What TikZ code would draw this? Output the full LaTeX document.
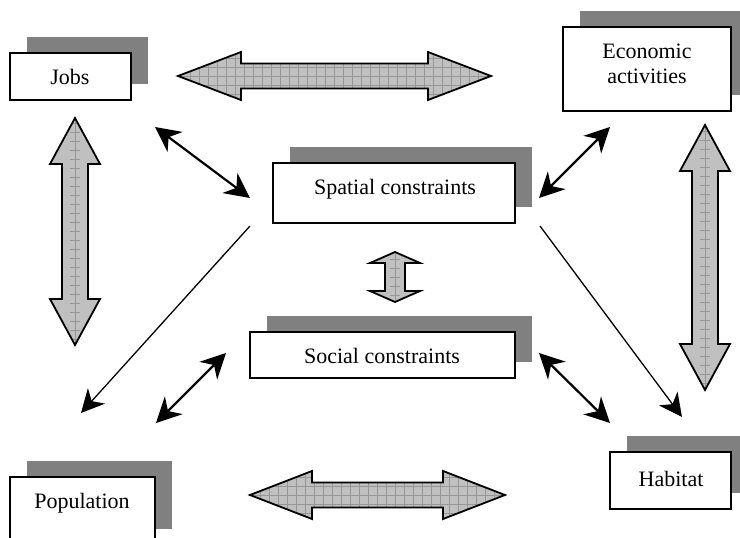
\documentclass[tikz,border=0pt]{standalone}
\usepackage{fontspec}
\setmainfont{Liberation Serif}
\usetikzlibrary{arrows.meta,shadows}
\definecolor{shadowgray}{RGB}{128,128,128}
\definecolor{blockgray}{RGB}{192,192,192}
\definecolor{gridgray}{RGB}{150,150,150}
\tikzset{
  box/.style={draw=black, line width=1.5pt, fill=white, inner sep=0pt,
    copy shadow={shadow xshift=17pt, shadow yshift=16pt, draw=none, fill=shadowgray}},
  lbl/.style={font=\fontsize{22}{25.5}\selectfont, align=center, inner sep=0pt},
  blockedge/.style={draw=black, line width=1.8pt, line join=miter, fill=blockgray,
    path picture={\draw[gridgray, line width=0.6pt]
      ([shift={(-20pt,-20pt)}]path picture bounding box.south west) grid[step=9pt]
      ([shift={(20pt,20pt)}]path picture bounding box.north east);}},
  dbl/.style={line width=2.2pt, {Stealth[length=25pt,width=25pt,inset=8pt]}-{Stealth[length=25pt,width=25pt,inset=8pt]}},
  sgl/.style={line width=1.3pt, -{Stealth[length=23pt,width=23pt,inset=7pt]}}
}
\newcommand\blkarrow[7]{%
  \begin{scope}[shift={(#1,#2)},rotate=#3]
    \path[blockedge] (-#4,0) -- ({-#4+#7},#6) -- ({-#4+#7},#5) -- ({#4-#7},#5)
      -- ({#4-#7},#6) -- (#4,0) -- ({#4-#7},-#6) -- ({#4-#7},-#5)
      -- ({-#4+#7},-#5) -- ({-#4+#7},-#6) -- cycle;
  \end{scope}}
\begin{document}
\begin{tikzpicture}[x=1pt,y=-1pt]
\useasboundingbox (0,0) rectangle (740,538);

% boxes
\node[box, minimum width=121pt, minimum height=47pt] (jobs) at (70.5,76.5) {};
\node[box, minimum width=168pt, minimum height=84pt] (eco) at (647,69) {};
\node[box, minimum width=242pt, minimum height=60pt] (spat) at (394,193) {};
\node[box, minimum width=265pt, minimum height=46pt] (soc) at (382.5,355) {};
\node[box, minimum width=145pt, minimum height=68pt] (pop) at (82.5,511) {};
\node[box, minimum width=121pt, minimum height=57pt] (hab) at (670.5,480.5) {};

% labels
\node[lbl] (jobsT) at (70,77) {Jobs};
\node[lbl] (ecoT) at (647,64) {Economic\\activities};
\node[lbl] (spatT) at (395,189) {Spatial constraints};
\node[lbl] (socT) at (382,356) {Social constraints};
\node[lbl] (popT) at (82,503) {Population};
\node[lbl] (habT) at (671,479) {Habitat};

% block arrows
\blkarrow{334.5}{76}{0}{156.5}{12.5}{24}{63}
\blkarrow{377.5}{495}{0}{127.5}{12.5}{24}{62}
\blkarrow{75}{231.5}{90}{113.5}{13}{25}{46}
\blkarrow{705}{257.5}{90}{132.5}{13}{25}{46}
\blkarrow{395}{277}{90}{25}{10}{25}{11}

% thin arrows
\coordinate (j1) at (155,127); \coordinate (j2) at (250,198);
\coordinate (e1) at (610,127); \coordinate (e2) at (539,198);
\coordinate (p1) at (226,353); \coordinate (p2) at (156,423);
\coordinate (h1) at (539,353); \coordinate (h2) at (610,423);
\coordinate (sp) at (250,226); \coordinate (pt) at (81,413);
\coordinate (sh) at (540,226); \coordinate (ht) at (682,417);
\draw[dbl] (j1) -- (j2);
\draw[dbl] (e1) -- (e2);
\draw[dbl] (p1) -- (p2);
\draw[dbl] (h1) -- (h2);
\draw[sgl] (sp) -- (pt);
\draw[sgl] (sh) -- (ht);
\end{tikzpicture}
\end{document}
